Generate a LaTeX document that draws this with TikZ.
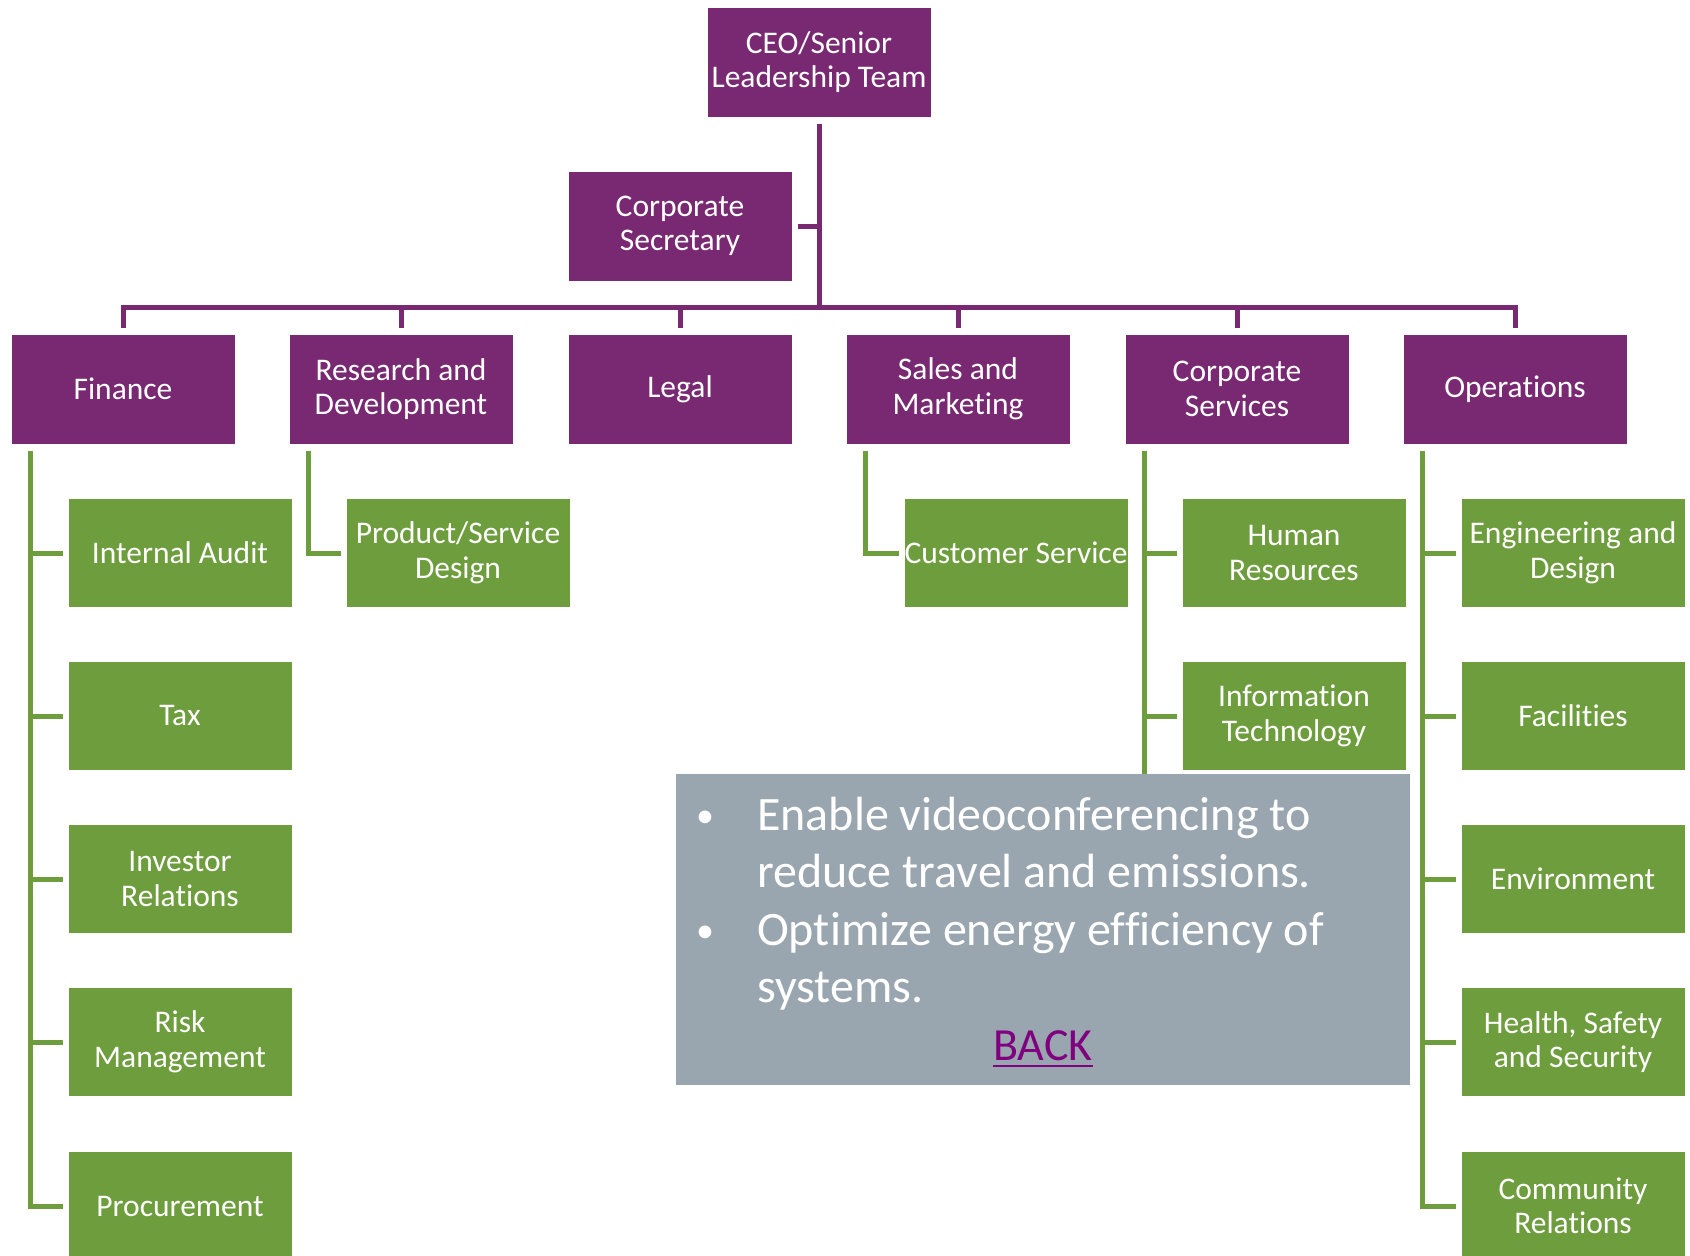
\documentclass[tikz,border=0pt]{standalone}
\usepackage{fontspec}
\setmainfont[Ligatures=NoCommon]{Carlito}
\definecolor{orgpurple}{RGB}{120,41,114}
\definecolor{orggreen}{RGB}{110,157,62}
\definecolor{ovgray}{RGB}{154,166,175}
\definecolor{backpurple}{RGB}{128,0,128}
\begin{document}
\begin{tikzpicture}[x=1pt,y=-1pt,
  pbox/.style={fill=orgpurple,draw=white,line width=1pt,minimum width=224pt,minimum height=110pt,inner sep=0pt,align=center,text=white,font=\fontsize{31.5}{34.5}\selectfont},
  gbox/.style={fill=orggreen,draw=white,line width=1pt,minimum width=224pt,minimum height=109pt,inner sep=0pt,align=center,text=white,font=\fontsize{31.5}{34.5}\selectfont},
  pline/.style={draw=orgpurple,line width=5pt,line join=miter},
  gline/.style={draw=orggreen,line width=5pt,line join=miter},
  ovtext/.style={anchor=base west,inner sep=0pt,text=white,font=\fontsize{48}{56}\selectfont},
  bul/.style={anchor=base,inner sep=0pt,text=white,font=\fontsize{36}{40}\selectfont}]
\useasboundingbox (0,0) rectangle (1690,1256);
% top
\node[pbox] (ceo) at (819,62) {CEO/Senior\\Leadership Team};
\node[pbox] (sec) at (680,226) {Corporate\\Secretary};
% departments
\node[pbox] (fin) at (123,389) {Finance};
\node[pbox] (rnd) at (401,389) {Research and\\Development};
\node[pbox] (leg) at (680,389) {Legal};
\node[pbox] (sal) at (958,389) {Sales and\\Marketing};
\node[pbox] (csv) at (1237,389) {Corporate\\Services};
\node[pbox] (ops) at (1515,389) {Operations};
\coordinate (bar) at (0,307);
% purple connectors
\draw[pline] ([yshift=-6pt]ceo.south) -- (ceo.south |- bar);
\draw[pline] ([xshift=5pt]sec.east) -- (sec.east -| ceo.south);
\draw[pline] ([yshift=6pt]fin.north) -- (fin.north |- bar) -- (ops.north |- bar) -- ([yshift=6pt]ops.north);
\foreach \d in {rnd,leg,sal,csv}{\draw[pline] (\d.north |- bar) -- ([yshift=6pt]\d.north);}
% finance children
\node[gbox] (ia) at (180,553) {Internal Audit};
\node[gbox] (tax) at (180,716) {Tax};
\node[gbox] (ir) at (180,879) {Investor\\Relations};
\node[gbox] (rm) at (180,1042) {Risk\\Management};
\node[gbox] (proc) at (180,1206) {Procurement};
% R&D child
\node[gbox] (psd) at (458,553) {Product/Service\\Design};
% Sales child
\node[gbox] (cus) at (1016,553) {Customer Service};
% Corporate services children
\node[gbox] (hr) at (1294,553) {Human\\Resources};
\node[gbox] (it) at (1294,716) {Information\\Technology};
% Operations children
\node[gbox] (eng) at (1573,553) {Engineering and\\Design};
\node[gbox] (fac) at (1573,716) {Facilities};
\node[gbox] (env) at (1573,879) {Environment};
\node[gbox] (hss) at (1573,1042) {Health, Safety\\and Security};
\node[gbox] (com) at (1573,1206) {Community\\Relations};
% green connectors
\coordinate (finx) at ([xshift=20pt,yshift=-6pt]fin.south west);
\coordinate (rndx) at ([xshift=20pt,yshift=-6pt]rnd.south west);
\coordinate (salx) at ([xshift=20pt,yshift=-6pt]sal.south west);
\coordinate (csvx) at ([xshift=20pt,yshift=-6pt]csv.south west);
\coordinate (opsx) at ([xshift=20pt,yshift=-6pt]ops.south west);
\draw[gline] (finx) |- ([xshift=-5pt]proc.west);
\foreach \c in {ia,tax,ir,rm}{\draw[gline] (finx |- \c.west) -- ([xshift=-5pt]\c.west);}
\draw[gline] (rndx) |- ([xshift=-5pt]psd.west);
\draw[gline] (salx) |- ([xshift=-5pt]cus.west);
\draw[gline] (csvx) -- (csvx |- 0,820);
\foreach \c in {hr,it}{\draw[gline] (csvx |- \c.west) -- ([xshift=-5pt]\c.west);}
\draw[gline] (opsx) |- ([xshift=-5pt]com.west);
\foreach \c in {eng,fac,env,hss}{\draw[gline] (opsx |- \c.west) -- ([xshift=-5pt]\c.west);}
% overlay
\node[fill=ovgray,minimum width=734pt,minimum height=311pt,inner sep=0pt,anchor=north west] (ov) at (676,774) {};
\node[bul] (b1) at (705,827) {•};
\node[ovtext] (t1) at (757,830) {Enable videoconferencing to};
\node[ovtext] (t2) at (757,887) {reduce travel and emissions.};
\node[bul] (b2) at (705,942) {•};
\node[ovtext] (t3) at (757,945) {Optimize energy efficiency of};
\node[ovtext] (t4) at (757,1002) {systems.};
\node[anchor=base,inner sep=0pt,text=backpurple,font=\fontsize{46}{55}\selectfont] (back) at (1043,1060) {BACK};
\draw[draw=backpurple,line width=2.5pt] ([yshift=-6pt]back.base west) -- ([yshift=-6pt]back.base east);
\end{tikzpicture}
\end{document}
